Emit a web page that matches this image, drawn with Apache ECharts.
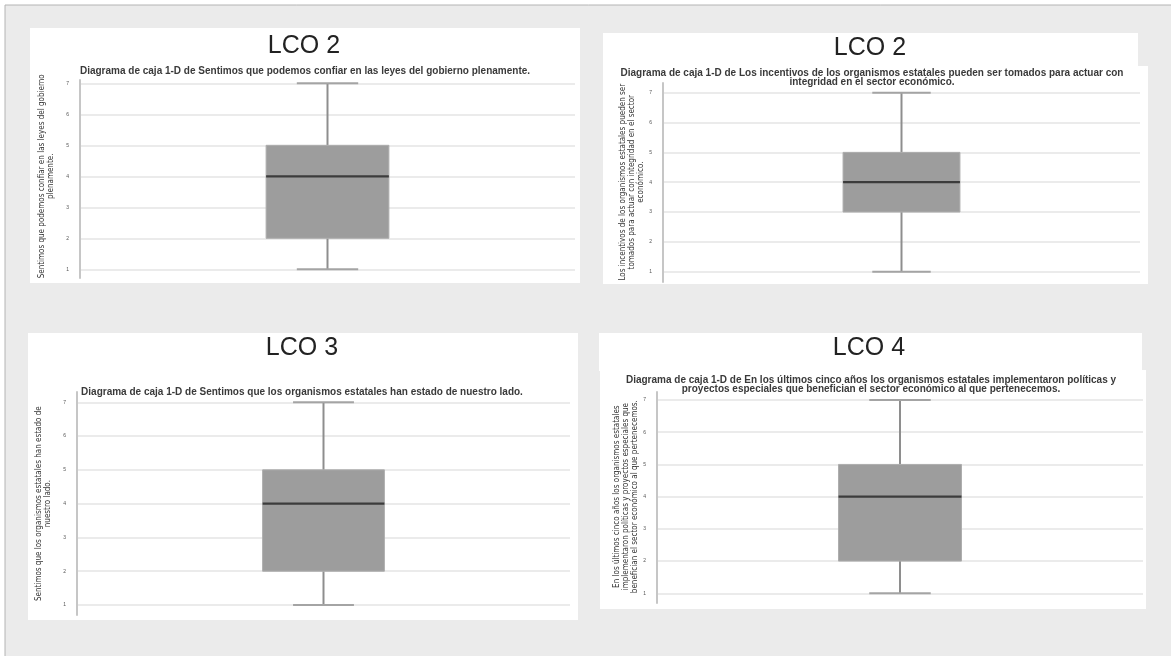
<!DOCTYPE html>
<html>
<head>
<meta charset="utf-8">
<script src="https://cdn.jsdelivr.net/npm/echarts@6/dist/echarts.min.js"></script>
<style>
html,body{margin:0;padding:0;background:#ffffff;}
#chart{width:1171px;height:656px;}
</style>
</head>
<body>
<div id="chart"></div>
<script>
// ---- data ----
const panelTitles = ['LCO 2', 'LCO 2', 'LCO 3', 'LCO 4'];
const subTitles = [
  'Diagrama de caja 1-D de Sentimos que podemos confiar en las leyes del gobierno plenamente.',
  'Diagrama de caja 1-D de Los incentivos de los organismos estatales pueden ser tomados para actuar con\nintegridad en el sector económico.',
  'Diagrama de caja 1-D de Sentimos que los organismos estatales han estado de nuestro lado.',
  'Diagrama de caja 1-D de En los últimos cinco años los organismos estatales implementaron políticas y\nproyectos especiales que benefician el sector económico al que pertenecemos.'
];
const yNames = [
  'Sentimos que podemos confiar en las leyes del gobierno\nplenamente.',
  'Los incentivos de los organismos estatales pueden ser\ntomados para actuar con integridad en el sector\neconómico.',
  'Sentimos que los organismos estatales han estado de\nnuestro lado.',
  'En los últimos cinco años los organismos estatales\nimplementaron políticas y proyectos especiales que\nbenefician el sector económico al que pertenecemos.'
];
const minVals = [1, 1, 1, 1];
const q1Vals  = [2, 3, 2, 2];
const medVals = [4, 4, 4, 4];
const q3Vals  = [5, 5, 5, 5];
const maxVals = [7, 7, 7, 7];
const yMin = 1, yMax = 7, yStep = 1;

// ---- layout (pixels) ----
const grids = [
  {left: 80,  top: 83.3,  width: 495, height: 186},
  {left: 663, top: 92.7,  width: 477, height: 179},
  {left: 77,  top: 402.3, width: 493, height: 202.7},
  {left: 657, top: 400,   width: 486, height: 193.3}
];
const frames = [
  {top: 80,  bottom: 278},
  {top: 83,  bottom: 282},
  {top: 392, bottom: 615},
  {top: 392, bottom: 603}
];
const nameGaps = [25, 18, 25, 15];
const titlePos = [
  {x: 304, y: 34}, {x: 870, y: 36}, {x: 302, y: 336}, {x: 869, y: 336}
];
const subPos = [
  {x: 305, y: 67}, {x: 872, y: 69}, {x: 302, y: 388}, {x: 871, y: 376}
];
const boxRatio = [0.248, 0.245, 0.247, 0.253];

const FONT = "'Liberation Sans', Arial, sans-serif";
const NARROW = "'Liberation Sans Narrow', 'DejaVu Sans Condensed', 'Liberation Sans', sans-serif";

function makeRender(ratio) {
  return function (params, api) {
    const c = api.value(0);
    const pMin = api.coord([c, api.value(1)]);
    const pQ1 = api.coord([c, api.value(2)]);
    const pMed = api.coord([c, api.value(3)]);
    const pQ3 = api.coord([c, api.value(4)]);
    const pMax = api.coord([c, api.value(5)]);
    const band = api.size([1, 0])[0];
    const bw = band * ratio;
    const cw = bw / 2;
    const x = pMed[0];
    return {
      type: 'group',
      children: [
        {type: 'line', shape: {x1: x, y1: pMax[1], x2: x, y2: pQ3[1]}, style: {stroke: '#8e8e8e', lineWidth: 2}},
        {type: 'line', shape: {x1: x, y1: pQ1[1], x2: x, y2: pMin[1]}, style: {stroke: '#8e8e8e', lineWidth: 2}},
        {type: 'line', shape: {x1: x - cw / 2, y1: pMax[1], x2: x + cw / 2, y2: pMax[1]}, style: {stroke: '#a4a4a4', lineWidth: 2}},
        {type: 'line', shape: {x1: x - cw / 2, y1: pMin[1], x2: x + cw / 2, y2: pMin[1]}, style: {stroke: '#a4a4a4', lineWidth: 2}},
        {type: 'rect', shape: {x: x - bw / 2, y: pQ3[1], width: bw, height: pQ1[1] - pQ3[1]},
          style: {fill: '#9d9d9d', stroke: '#adadad', lineWidth: 1}},
        {type: 'line', shape: {x1: x - bw / 2, y1: pMed[1], x2: x + bw / 2, y2: pMed[1]}, style: {stroke: '#3c3c3c', lineWidth: 2.2}}
      ]
    };
  };
}

const option = {
  animation: false,
  backgroundColor: '#ffffff',
  graphic: [
    {type: 'rect', z: -10, shape: {x: 5, y: 5, width: 1180, height: 660}, style: {fill: '#ebebeb', stroke: '#b4b4b4', lineWidth: 1}},
    {type: 'rect', z: -9, shape: {x: 30, y: 28, width: 550, height: 255}, style: {fill: '#ffffff'}},
    {type: 'rect', z: -9, shape: {x: 603, y: 33, width: 535, height: 34}, style: {fill: '#ffffff'}},
    {type: 'rect', z: -9, shape: {x: 603, y: 66, width: 545, height: 218}, style: {fill: '#ffffff'}},
    {type: 'rect', z: -9, shape: {x: 28, y: 333, width: 550, height: 287}, style: {fill: '#ffffff'}},
    {type: 'rect', z: -9, shape: {x: 599, y: 333, width: 543, height: 38}, style: {fill: '#ffffff'}},
    {type: 'rect', z: -9, shape: {x: 600, y: 370, width: 546, height: 239}, style: {fill: '#ffffff'}}
  ],
  title: [],
  grid: [],
  xAxis: [],
  yAxis: [],
  series: []
};

for (let i = 0; i < 4; i++) {
  option.title.push({
    text: panelTitles[i], left: titlePos[i].x, top: titlePos[i].y, textAlign: 'center', padding: 0,
    textStyle: {fontFamily: FONT, fontSize: 25, fontWeight: 'normal', color: '#222222'}
  });
  option.title.push({
    text: subTitles[i], left: subPos[i].x, top: subPos[i].y, textAlign: 'center', padding: 0,
    textStyle: {fontFamily: FONT, fontSize: 10, fontWeight: 'bold', color: '#3a3a3a', lineHeight: 9}
  });
  const g = grids[i];
  option.grid.push({left: g.left, top: g.top, width: g.width, height: g.height, containLabel: false});
  option.xAxis.push({
    type: 'category', gridIndex: i, data: [panelTitles[i]],
    axisLine: {show: false}, axisTick: {show: false}, axisLabel: {show: false}, splitLine: {show: false}
  });
  option.yAxis.push({
    type: 'value', gridIndex: i, min: yMin, max: yMax, interval: yStep,
    name: yNames[i], nameLocation: 'middle', nameRotate: 90, nameGap: nameGaps[i],
    nameTextStyle: {fontFamily: NARROW, fontSize: 8, color: '#333333', lineHeight: 9, fontWeight: 'normal'},
    axisLine: {show: false}, axisTick: {show: false},
    axisLabel: {fontSize: 5, color: '#555555', margin: 11, fontFamily: FONT},
    splitLine: {show: true, lineStyle: {color: '#e4e4e4', width: 1.5}}
  });
  option.series.push({
    type: 'custom', xAxisIndex: i, yAxisIndex: i,
    renderItem: makeRender(boxRatio[i]),
    encode: {x: 0, y: [1, 2, 3, 4, 5]},
    data: [[0, minVals[i], q1Vals[i], medVals[i], q3Vals[i], maxVals[i]]]
  });
}
// frame grids carrying the vertical axis lines
for (let i = 0; i < 4; i++) {
  const f = frames[i];
  const gi = 4 + i;
  option.grid.push({left: grids[i].left, top: f.top, width: 10, height: f.bottom - f.top});
  option.xAxis.push({type: 'value', gridIndex: gi, min: 0, max: 1, show: false});
  option.yAxis.push({
    type: 'value', gridIndex: gi, min: 0, max: 1,
    axisLine: {show: true, lineStyle: {color: '#c6c6c6', width: 2}},
    axisTick: {show: false}, axisLabel: {show: false}, splitLine: {show: false}
  });
}

const chart = echarts.init(document.getElementById('chart'), null, {renderer: 'canvas'});
chart.setOption(option);
</script>
</body>
</html>
